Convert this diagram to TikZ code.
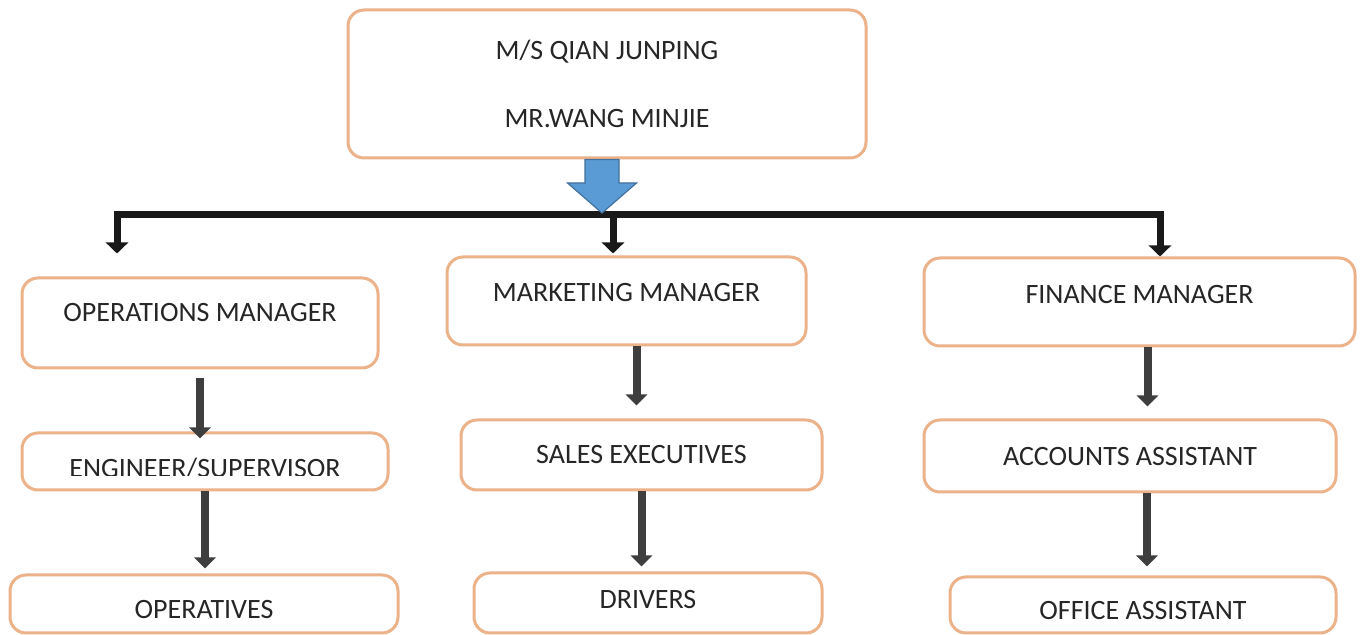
\documentclass[tikz,border=0pt]{standalone}
\usepackage{fontspec}
\setmainfont{Carlito}
\usetikzlibrary{arrows.meta}
\definecolor{boxline}{RGB}{236,178,138}
\definecolor{stemgray}{RGB}{62,62,62}
\definecolor{headblue}{RGB}{91,155,213}
\definecolor{headedge}{RGB}{65,113,156}
\tikzset{
  post/.style={draw=boxline, line width=1.5pt, rounded corners=8pt, fill=white,
    inner xsep=0pt, inner ysep=0pt, font=\fontsize{14}{17}\selectfont, text=black!85},
  stemarrow/.style={draw=stemgray, line width=4pt, -{Triangle[width=10.5pt,length=5.5pt]}},
  bus/.style={draw=black!90, line width=3.5pt},
}
\begin{document}
\begin{tikzpicture}[x=0.5pt, y=-0.5pt]
  \useasboundingbox[fill=white] (0,0) rectangle (1361,635);
  % owners
  \node[post, minimum width=259pt, minimum height=74pt, align=center] (owners) at (607,84)
    {M/S QIAN JUNPING\\[17pt]MR.WANG MINJIE};
  % managers
  \node[post, minimum width=178pt, text height=22pt, text depth=23pt] (ops) at (200,323) {OPERATIONS MANAGER};
  \node[post, minimum width=179.5pt, text height=22.5pt, text depth=21.5pt] (mkt) at (626.5,301) {MARKETING MANAGER};
  \node[post, minimum width=215.5pt, text height=23pt, text depth=21pt] (fin) at (1139.5,302) {FINANCE MANAGER};
  % second row
  \node[post, minimum width=183pt, minimum height=28.5pt] (eng) at (205,461.5) {};
  \begin{scope}
    \clip (eng.north west) rectangle ([yshift=8pt]eng.south east);
    \node[font=\fontsize{14}{17}\selectfont, text=black!85, inner sep=0pt, anchor=base] (engtext) at (205,478) {ENGINEER/SUPERVISOR};
  \end{scope}
  \node[post, minimum width=180.5pt, text height=22pt, text depth=13pt] (sales) at (641.5,455) {SALES EXECUTIVES};
  \node[post, minimum width=206pt, text height=23pt, text depth=13pt] (acc) at (1130,456) {ACCOUNTS ASSISTANT};
  % third row
  \node[post, minimum width=194pt, text height=22pt, text depth=7pt] (opv) at (204,604) {OPERATIVES};
  \node[post, minimum width=174pt, text height=18pt, text depth=12pt] (drv) at (648,603) {DRIVERS};
  \node[post, minimum width=193pt, text height=21.5pt, text depth=6.5pt] (office) at (1143,605) {OFFICE ASSISTANT};
  % bus
  \coordinate (hub) at (602,213);
  \coordinate (busL) at (117,215);
  \coordinate (busM) at (613,215);
  \coordinate (busR) at (1160,215);
  \draw[bus, {Triangle[width=11pt,length=5.5pt]}-{Triangle[width=11pt,length=5.5pt]}]
    ([yshift=11.5pt]ops.north -| busL) -- (busL) -- (busR) -- (fin.north -| busR);
  \draw[bus, -{Triangle[width=11pt,length=5.5pt]}] (busM) -- ([yshift=1pt]mkt.north -| busM);
  % block arrow under the owners
  \filldraw[fill=headblue, draw=headedge, line width=0.6pt]
    ([xshift=-8.5pt]owners.south -| hub) -- ([xshift=8.5pt]owners.south -| hub)
    -- ([xshift=8.5pt,yshift=15pt]hub) -- ([xshift=17.25pt,yshift=15pt]hub) -- (hub)
    -- ([xshift=-17.25pt,yshift=15pt]hub) -- ([xshift=-8.5pt,yshift=15pt]hub) -- cycle;
  % down the columns
  \draw[stemarrow] ([yshift=-4.5pt]ops.south) -- ([yshift=-3.5pt]ops.south |- eng.north);
  \draw[stemarrow, shorten >=2.5pt] (eng.south) -- (eng.south |- opv.north);
  \draw[stemarrow, shorten >=6.5pt] ([xshift=5pt]mkt.south) -- ([xshift=5pt]mkt.south |- sales.north);
  \draw[stemarrow, shorten >=2.5pt] (sales.south) -- (sales.south |- drv.north);
  \draw[stemarrow, shorten >=6pt] ([xshift=4pt]fin.south) -- ([xshift=4pt]fin.south |- acc.north);
  \draw[stemarrow, shorten >=4.5pt] ([xshift=8.5pt]acc.south) -- ([xshift=8.5pt]acc.south |- office.north);
\end{tikzpicture}
\end{document}
